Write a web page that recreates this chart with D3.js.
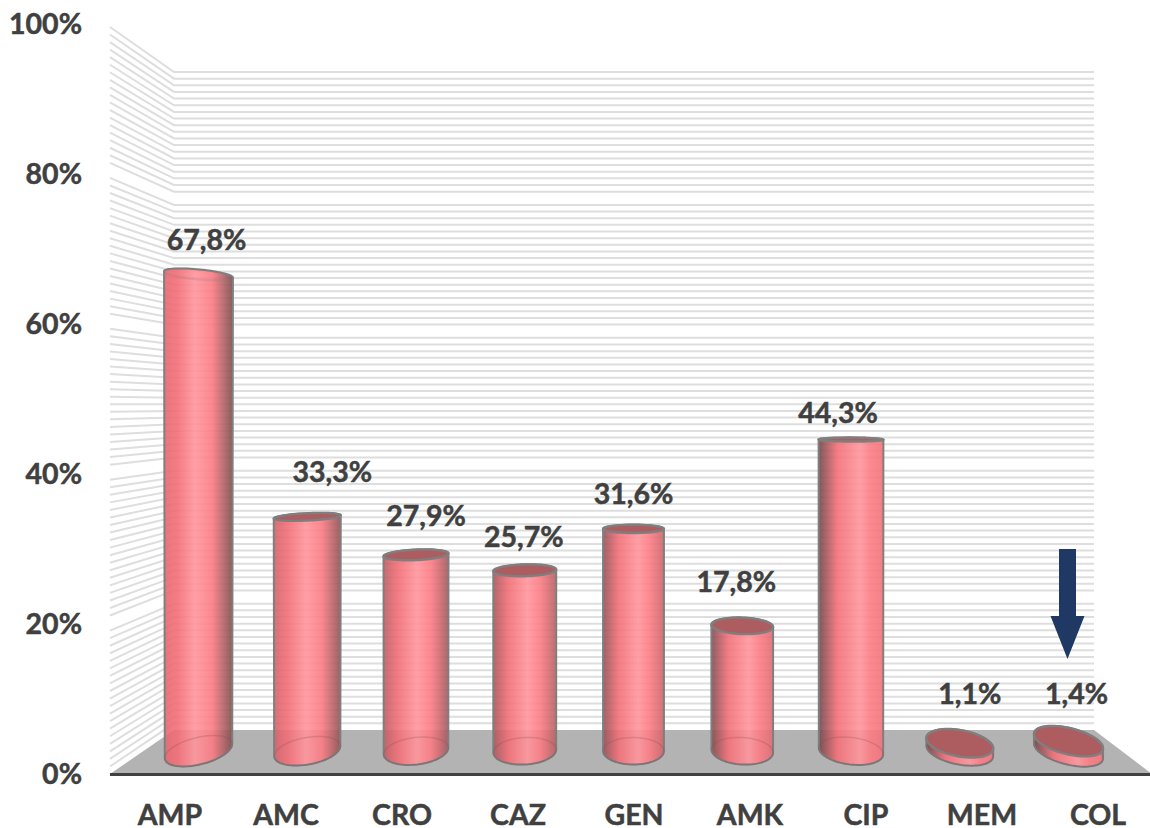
<!DOCTYPE html>
<html>
<head>
<meta charset="utf-8">
<script src="https://cdn.jsdelivr.net/npm/d3@7/dist/d3.min.js"></script>
<style>
  html, body { margin: 0; padding: 0; background: #fff; }
  svg { display: block; }
  text { font-family: Lato, "Open Sans", sans-serif; font-weight: 700; fill: #404040; stroke: #404040; stroke-width: 0.5px; }
</style>
</head>
<body>
<div id="chart"></div>
<script>
const categories = ['AMP', 'AMC', 'CRO', 'CAZ', 'GEN', 'AMK', 'CIP', 'MEM', 'COL'];
const values = [67.8, 33.3, 27.9, 25.7, 31.6, 17.8, 44.3, 1.1, 1.4];
const valueLabels = ['67,8%', '33,3%', '27,9%', '25,7%', '31,6%', '17,8%', '44,3%', '1,1%', '1,4%'];
const yTicks = [0, 20, 40, 60, 80, 100];
// wall lines run from 2 to 100, these levels have no line in the picture
const missingLines = [21, 41, 61, 81];

// the labels were placed by hand in the original, so they need a nudge each
const labelDx = [8, 25, 10, -1, 0, -6, -13, 10, 8];
const labelDy = [-34, -45, -39, -33, -35, -44, -27, -49, -47];

const width = 1150;
const height = 828;
const fontSize = 28.5;

const svg = d3
  .select('#chart')
  .append('svg')
  .attr('width', width)
  .attr('height', height);

const defs = svg.append('defs');

// scales
const yAxis = d3.scaleLinear().domain([0, 100]).range([774.5, 24]);
const yBar = d3.scaleLinear().domain([0, 100]).range([751, 48]);
const xBar = d3.scalePoint().domain(categories).range([198.5, 1068.5]);
const xAxis = d3.scalePoint().domain(categories).range([170, 1098]);
const ySide = d3.scaleLinear().domain([1, 100]).range([774, 27]);
const yBack = d3.scaleLinear().domain([1, 100]).range([730, 72]);

// shading moves across the bars from left to right
const shadeLeft = d3.scaleLinear().domain([198, 851]).range(['#e8666f', '#6f4749']).clamp(true);
const shadeRight = d3.scaleLinear().domain([198, 851]).range(['#7a4d4c', '#f2727b']).clamp(true);
const shadePeak = d3.scaleLinear().domain([198, 851]).range([45, 64]).clamp(true);

// fake perspective for the cylinders
const horizonY = 430;
const centreX = 630;
const ryAt = y => (y > horizonY ? 0.042 : 0.032) * Math.abs(y - horizonY);
const tiltAt = (x, y) => (y > horizonY ? 1.0e-4 : 0.8e-4) * (x - centreX) * (y - horizonY);
const rxAt = x => 30 + (x > 680 ? 0.014 : 0.0095) * Math.abs(x - 680);

function ellipsePoints(cx, cy, rx, ry, deg) {
  const a = (deg * Math.PI) / 180;
  return d3.range(0, 72).map(i => {
    const t = (i / 72) * 2 * Math.PI;
    return [
      cx + rx * Math.cos(t) * Math.cos(a) - ry * Math.sin(t) * Math.sin(a),
      cy + rx * Math.cos(t) * Math.sin(a) + ry * Math.sin(t) * Math.cos(a)
    ];
  });
}
const closedLine = d3.line().curve(d3.curveLinearClosed);

// floor
svg
  .append('path')
  .attr('d', closedLine([[110, 774], [174, 730], [1094, 730], [1152, 774]]))
  .attr('fill', '#b3b3b3');

// walls
const wallLevels = d3.range(2, 101).filter(v => !missingLines.includes(v));
svg
  .append('g')
  .selectAll('path')
  .data(wallLevels)
  .enter()
  .append('path')
  .attr('d', v => d3.line()([[110, ySide(v)], [174, yBack(v)], [1094, yBack(v)]]))
  .attr('fill', 'none')
  .attr('stroke', '#dedede')
  .attr('stroke-width', 2);

// axis line
svg
  .append('line')
  .attr('x1', 110)
  .attr('x2', 1152)
  .attr('y1', 774.5)
  .attr('y2', 774.5)
  .attr('stroke', '#404040')
  .attr('stroke-width', 3);

// tick labels
svg
  .append('g')
  .selectAll('text')
  .data(yTicks)
  .enter()
  .append('text')
  .attr('x', 82)
  .attr('y', d => yAxis(d))
  .attr('dy', '0.35em')
  .attr('text-anchor', 'end')
  .attr('font-size', fontSize)
  .text(d => `${d}%`);

svg
  .append('g')
  .selectAll('text')
  .data(categories)
  .enter()
  .append('text')
  .attr('x', d => xAxis(d))
  .attr('y', 815)
  .attr('dy', '0.35em')
  .attr('text-anchor', 'middle')
  .attr('font-size', fontSize)
  .text(d => d);

// bars
const bars = categories.map((name, i) => {
  const x = xBar(name);
  const topY = yBar(values[i]);
  const baseY = yBar(0);
  const rx = rxAt(x);
  const base = ellipsePoints(x, baseY, rx, ryAt(baseY), tiltAt(x, baseY));
  const top = ellipsePoints(x, topY, rx, Math.max(ryAt(topY), 2), tiltAt(x, topY));
  return { name, i, x, topY, base, top };
});

bars.forEach(b => {
  const grad = defs
    .append('linearGradient')
    .attr('id', `bar_${b.name}`)
    .attr('gradientUnits', 'objectBoundingBox')
    .attr('x1', 0)
    .attr('x2', 1)
    .attr('y1', 0)
    .attr('y2', 0);
  const peak = shadePeak(b.x);
  grad.append('stop').attr('offset', '0%').attr('stop-color', shadeLeft(b.x));
  grad.append('stop').attr('offset', `${peak * 0.45}%`).attr('stop-color', '#f36f78');
  grad.append('stop').attr('offset', `${peak}%`).attr('stop-color', '#ff959c');
  grad.append('stop').attr('offset', `${peak + (100 - peak) * 0.45}%`).attr('stop-color', '#fc7b84');
  grad.append('stop').attr('offset', '100%').attr('stop-color', shadeRight(b.x));
});

const barGroup = svg
  .append('g')
  .selectAll('g')
  .data(bars)
  .enter()
  .append('g');

// body, the hull of both end ellipses
barGroup
  .append('path')
  .attr('d', b => closedLine(d3.polygonHull(b.base.concat(b.top))))
  .attr('fill', b => `url(#bar_${b.name})`)
  .attr('fill-opacity', 0.9)
  .attr('stroke', '#7f7f7f')
  .attr('stroke-width', 2);

// back of the base shows through the body
barGroup
  .append('path')
  .attr('d', b => closedLine(b.base))
  .attr('fill', 'none')
  .attr('stroke', '#8c4a4e')
  .attr('stroke-opacity', 0.25)
  .attr('stroke-width', 1.5);

// top cap, only seen from above under the horizon
barGroup
  .append('path')
  .attr('d', b => closedLine(b.top))
  .attr('fill', b => (b.topY > horizonY ? '#ad5c60' : 'none'))
  .attr('stroke', '#7f7f7f')
  .attr('stroke-opacity', b => (b.topY > horizonY ? 1 : 0.2))
  .attr('stroke-width', 2.4);

// value labels
barGroup
  .append('text')
  .attr('x', b => b.x + labelDx[b.i])
  .attr('y', b => b.topY + labelDy[b.i])
  .attr('dy', '0.35em')
  .attr('text-anchor', 'middle')
  .attr('font-size', fontSize)
  .text(b => valueLabels[b.i]);

// arrow over COL
const arrowX = xBar('COL') - 1;
svg
  .append('path')
  .attr(
    'd',
    closedLine([
      [arrowX - 8.5, 549],
      [arrowX + 8.5, 549],
      [arrowX + 8.5, 616],
      [arrowX + 17, 616],
      [arrowX, 659],
      [arrowX - 17, 616],
      [arrowX - 8.5, 616]
    ])
  )
  .attr('fill', '#1f3864');
</script>
</body>
</html>
